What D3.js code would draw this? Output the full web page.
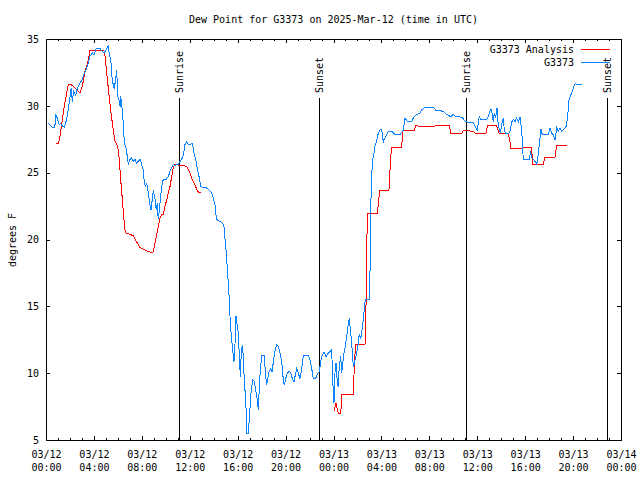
<!DOCTYPE html>
<html><head><meta charset="utf-8">
<script src="https://cdn.jsdelivr.net/npm/d3@7"></script>
<style>
body{margin:0;background:#fff}
svg{display:block}
text{font-family:"DejaVu Sans Mono",monospace;font-size:10px;fill:#000}
</style>
</head><body>
<svg id="c" width="640" height="480"></svg>
<script>
// ---------------- DATA ----------------
const chartTitle = "Dew Point for G3373 on 2025-Mar-12 (time in UTC)";
const yAxisLabel = "degrees F";
const seriesNames = ["G3373 Analysis", "G3373"];
const startUTC = "2025-03-12T00:00:00Z";
// hours after 03/12 00:00 UTC
const obsHours = [0.19,0.53,0.73,0.83,0.94,1.09,1.23,1.36,1.53,1.73,
1.95,2.09,2.20,2.31,2.48,2.61,2.84,3.03,3.20,3.34,
3.53,3.67,3.87,4.01,4.17,4.51,4.65,4.84,5.01,5.18,
5.28,5.43,5.53,5.68,5.79,5.90,5.99,6.09,6.18,6.24,
6.32,6.45,6.54,6.68,6.79,6.87,7.01,7.15,7.29,7.43,
7.57,7.70,7.85,7.99,8.12,8.21,8.32,8.41,8.54,8.68,
8.77,8.87,8.96,9.10,9.21,9.29,9.37,9.46,9.57,9.66,
9.79,10.02,10.21,10.35,10.49,10.63,10.77,10.91,11.04,11.19,
11.33,11.46,11.60,11.75,11.88,12.02,12.21,12.35,12.52,12.66,
12.80,12.91,13.13,13.41,13.63,13.83,13.97,14.11,14.17,14.25,
14.53,14.75,14.86,14.94,15.03,15.13,15.22,15.30,15.36,15.44,
15.53,15.61,15.69,15.78,15.86,15.97,16.05,16.14,16.22,16.30,
16.39,16.47,16.55,16.67,16.78,16.89,17.00,17.11,17.25,17.39,
17.53,17.64,17.72,17.81,17.89,18.01,18.22,18.34,18.42,18.51,
18.62,18.76,18.87,18.98,19.12,19.26,19.39,19.53,19.68,19.81,
19.89,20.01,20.14,20.31,20.43,20.56,20.70,20.81,20.93,21.06,
21.20,21.35,21.48,21.90,22.04,22.18,22.31,22.51,22.68,22.81,
22.93,23.03,23.21,23.37,23.57,23.85,23.93,24.04,24.12,24.21,
24.32,24.40,24.48,24.60,24.68,24.77,24.88,24.98,25.10,25.21,
25.32,25.44,25.52,25.60,25.69,25.79,25.94,26.07,26.15,26.27,
26.35,26.44,26.55,26.65,26.99,27.05,27.10,27.19,27.27,27.38,
27.46,27.61,27.74,27.88,28.02,28.16,28.30,28.57,28.86,29.13,
29.55,29.83,29.97,30.16,30.53,30.66,30.95,31.22,31.36,31.64,
32.33,32.56,33.17,33.45,33.78,34.00,34.23,34.70,35.06,35.67,
35.81,36.00,36.17,36.29,36.45,36.79,36.92,37.06,37.15,37.26,
37.34,37.42,37.54,37.65,37.73,37.84,37.92,38.04,38.17,38.26,
38.37,38.59,38.73,38.88,39.01,39.15,39.29,39.43,39.57,39.65,
39.74,39.79,39.84,40.34,40.46,40.54,40.68,40.82,40.96,41.05,
41.15,41.24,41.32,41.40,41.51,41.93,42.07,42.21,42.35,42.49,
42.63,42.77,42.91,43.05,43.18,43.41,43.55,43.66,43.83,44.02,
44.16,44.43,44.72];
const obsDewpt = [28.7,28.4,28.4,29.3,29.1,28.6,28.7,28.5,28.4,29.0,
30.3,31.3,30.3,31.1,30.8,31.3,31.7,31.95,32.45,32.7,
33.2,33.7,33.95,33.8,34.25,34.3,34.1,34.0,34.15,34.5,
33.95,33.2,31.95,31.3,31.8,32.7,30.7,30.45,29.95,30.7,
30.1,28.7,27.2,26.85,26.2,25.6,26.0,26.1,25.85,26.0,
25.7,25.85,26.0,25.6,25.2,24.2,24.0,24.2,23.5,22.6,
22.2,23.0,23.7,23.0,22.2,22.7,21.5,22.2,23.2,24.0,
24.5,24.5,24.7,25.1,25.35,25.6,25.5,25.6,25.6,25.85,
26.0,26.3,27.1,27.3,27.1,27.1,27.2,26.5,25.85,25.2,
24.6,23.95,23.9,23.85,23.7,23.5,23.1,22.6,21.95,21.5,
21.35,21.2,20.95,20.1,19.2,17.95,16.7,15.5,14.25,13.1,
12.25,11.5,10.85,12.25,14.25,13.5,13.0,11.25,9.75,11.5,
12.1,11.25,9.5,8.0,5.5,5.5,7.0,8.5,9.5,9.4,
8.6,8.0,7.25,9.0,10.25,11.3,11.3,9.75,9.1,9.6,
10.1,10.35,10.1,10.85,11.7,12.1,12.0,11.5,10.85,9.5,
9.1,9.6,10.0,10.15,10.0,9.6,9.35,9.85,10.35,10.0,
9.6,10.35,11.3,11.3,11.0,10.35,9.6,9.6,10.0,10.1,
10.85,11.25,11.6,11.25,11.5,11.75,9.5,7.75,10.0,10.75,
9.25,9.0,10.5,11.25,10.0,10.75,11.5,12.0,12.75,13.5,
14.1,13.0,12.25,11.0,10.5,11.0,11.5,12.25,12.9,12.6,
13.0,13.6,14.6,15.5,15.5,17.7,22.2,24.85,25.95,26.45,
26.95,27.45,27.95,28.2,28.25,27.3,27.6,28.1,28.1,27.85,
27.85,28.2,29.1,28.8,28.8,29.1,29.35,29.45,29.7,29.9,
29.9,29.65,29.6,29.35,29.2,29.35,29.2,29.15,28.8,28.75,
28.5,28.2,29.2,29.0,29.0,29.0,29.2,29.6,29.75,29.35,
28.8,29.45,29.1,29.85,28.8,28.2,27.95,28.6,29.1,28.2,
27.95,27.9,28.1,28.8,29.0,28.8,29.1,28.8,29.15,28.6,
27.7,26.95,26.0,26.0,26.6,26.1,26.0,25.85,25.6,26.1,
26.85,27.6,28.25,27.95,27.85,27.85,28.35,27.95,27.85,27.45,
28.35,28.1,28.35,28.1,28.2,28.45,29.2,30.45,30.85,31.35,
31.65,31.6,31.6];
const anaHours = [0.83,1.03,1.17,1.39,1.59,1.86,2.06,2.42,2.84,3.06,
3.26,3.48,3.67,4.45,4.84,4.93,5.07,5.26,5.40,5.48,
5.62,5.76,5.99,6.09,6.18,6.26,6.40,6.51,6.62,7.26,
7.85,8.51,8.91,9.10,9.24,9.37,9.52,9.66,9.79,9.93,
10.08,10.21,10.35,10.49,10.63,10.77,11.60,11.75,11.88,12.02,
12.16,12.30,12.44,12.58,12.71,12.91,18.0,24.04,24.21,24.40,
24.60,24.71,25.65,25.77,25.88,26.63,26.71,26.77,26.85,27.66,
27.80,27.82,28.63,28.77,28.86,29.69,29.78,30.72,30.86,31.78,
32.61,33.67,33.81,34.70,34.83,35.67,35.85,36.73,36.84,37.62,
37.84,38.59,38.73,38.82,39.71,39.79,40.54,40.63,41.51,41.65,
42.49,42.63,43.52];
const anaDewpt = [27.15,27.15,27.75,29.15,30.3,31.6,31.6,31.35,30.95,31.6,
32.6,33.2,34.15,34.15,34.1,33.7,32.45,30.8,29.7,29.1,
28.2,27.35,26.95,26.2,25.2,24.2,22.7,21.5,20.5,20.3,
19.4,19.1,19.0,19.7,20.35,20.95,21.6,21.85,21.85,22.5,
22.95,23.5,23.95,24.7,25.45,25.6,25.5,25.45,25.2,24.95,
24.6,24.35,24.1,23.75,23.55,23.55,null,7.2,7.75,7.0,
7.0,8.4,8.4,11.25,12.15,12.15,14.7,19.6,21.95,21.95,
23.2,23.7,23.7,26.1,26.85,26.85,28.15,28.15,28.5,28.45,
28.5,28.5,27.9,27.9,28.15,28.1,27.95,27.95,28.5,28.5,
27.9,27.9,27.35,26.8,26.8,26.9,26.9,25.6,25.6,26.15,
26.15,27.05,27.05];
const sunHours = [11.13, 22.83, 35.06, 46.80];
const sunLabels = ["Sunrise", "Sunset", "Sunrise", "Sunset"];
const yTicks = [5,10,15,20,25,30,35];
const xTickHours = [0,4,8,12,16,20,24,28,32,36,40,44,48];
const colors = ["#ff0000", "#0a84ff"];

// ---------------- CHART ----------------
const L = 46, R = 621, T = 39, B = 440;
const t0 = new Date(startUTC).getTime();
const toDate = h => new Date(t0 + h * 3600000);
const x = d3.scaleUtc().domain([toDate(0), toDate(48)]).range([L, R]);
const y = d3.scaleLinear().domain([5, 35]).range([B, T]);

const svg = d3.select("#c");
svg.append("rect").attr("width", 640).attr("height", 480).attr("fill", "#fff");

svg.append("text").attr("x", (L + R) / 2).attr("y", 23).attr("text-anchor", "middle").text(chartTitle);
svg.append("text").attr("transform", "translate(16,240) rotate(-90)").attr("text-anchor", "middle").text(yAxisLabel);

// sunrise / sunset markers
sunHours.forEach((h, i) => {
  const sx = Math.round(x(toDate(h))) + 0.5;
  svg.append("line").attr("x1", sx).attr("x2", sx).attr("y1", 98).attr("y2", B)
    .attr("stroke", "#000").attr("shape-rendering", "crispEdges");
  svg.append("text").attr("transform", `translate(${sx + 3.5},93) rotate(-90)`)
    .attr("text-anchor", "start").text(sunLabels[i]);
});

// data lines
const line = d3.line().defined(d => d.v != null).x(d => x(d.t)).y(d => y(d.v));
const ana = anaHours.map((h, i) => ({ t: toDate(h), v: anaDewpt[i] }));
const obs = obsHours.map((h, i) => ({ t: toDate(h), v: obsDewpt[i] }));
svg.append("path").datum(ana).attr("d", line).attr("fill", "none").attr("stroke", colors[0])
  .attr("stroke-width", 1).attr("shape-rendering", "crispEdges");
svg.append("path").datum(obs).attr("d", line).attr("fill", "none").attr("stroke", colors[1])
  .attr("stroke-width", 1).attr("shape-rendering", "crispEdges");

// axes (ticks inward, mirrored)
const major = xTickHours.map(toDate);
const minor = d3.range(0, 49).map(toDate);
function styleAxis(g) {
  g.select(".domain").remove();
  g.selectAll("line").attr("stroke", "#000").attr("shape-rendering", "crispEdges");
}
svg.append("g").attr("transform", `translate(0,${B})`)
  .call(d3.axisBottom(x).tickValues(minor).tickSize(-2).tickFormat("")).call(styleAxis);
svg.append("g").attr("transform", `translate(0,${T})`)
  .call(d3.axisTop(x).tickValues(minor).tickSize(-2).tickFormat("")).call(styleAxis);
svg.append("g").attr("transform", `translate(0,${T})`)
  .call(d3.axisTop(x).tickValues(major).tickSize(-4).tickFormat("")).call(styleAxis);
const xb = svg.append("g").attr("transform", `translate(0,${B})`)
  .call(d3.axisBottom(x).tickValues(major).tickSize(-4).tickFormat("")).call(styleAxis);
const fD = d3.utcFormat("%m/%d"), fT = d3.utcFormat("%H:%M");
xb.selectAll(".tick").each(function (d) {
  const t = d3.select(this).select("text").attr("y", null).attr("dy", null)
    .attr("font-family", null).attr("font-size", null).attr("fill", "#000");
  t.append("tspan").attr("x", 0).attr("y", 18).text(fD(d));
  t.append("tspan").attr("x", 0).attr("y", 31).text(fT(d));
});
const yl = svg.append("g").attr("transform", `translate(${L},0)`)
  .call(d3.axisLeft(y).tickValues(yTicks).tickSize(-4).tickPadding(7)).call(styleAxis);
yl.selectAll("text").attr("font-family", null).attr("font-size", null).attr("fill", "#000");
svg.append("g").attr("transform", `translate(${R},0)`)
  .call(d3.axisRight(y).tickValues(yTicks).tickSize(-4).tickFormat("")).call(styleAxis);

// frame
svg.append("rect").attr("x", L + 0.5).attr("y", T + 0.5).attr("width", R - L).attr("height", B - T)
  .attr("fill", "none").attr("stroke", "#000").attr("shape-rendering", "crispEdges");

// legend
[49, 62].forEach((ly, i) => {
  svg.append("text").attr("x", 574).attr("y", ly + 3.5).attr("text-anchor", "end").text(seriesNames[i]);
  svg.append("line").attr("x1", 581).attr("x2", 610).attr("y1", ly + 0.5).attr("y2", ly + 0.5)
    .attr("stroke", colors[i]).attr("shape-rendering", "crispEdges");
});
</script>
</body></html>
